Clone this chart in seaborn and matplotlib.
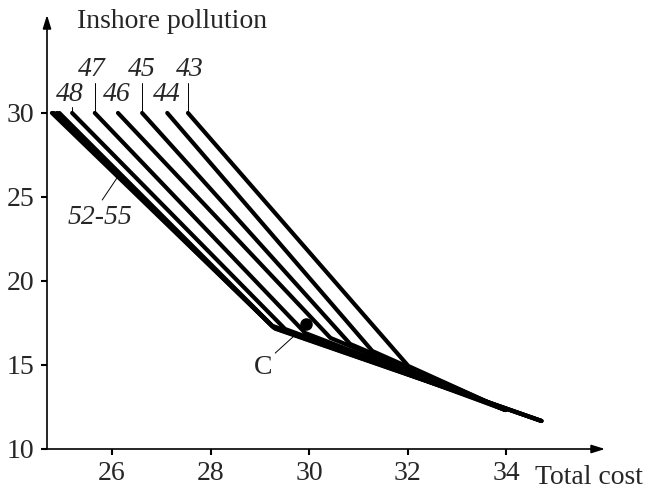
import matplotlib
matplotlib.use("Agg")
import matplotlib.pyplot as plt
import seaborn as sns
import pandas as pd

sns.set_style("white")
plt.rcParams['font.family'] = ['Liberation Serif', 'DejaVu Serif']

# series: name, start cost (pollution 30), kink point, end point
series = ["52", "53", "54", "55", "48", "47", "46", "45", "44", "43"]
start_x = [24.78, 24.82, 24.88, 24.93, 25.19, 25.65, 26.12, 26.61, 27.12, 27.54]
start_y = [30, 30, 30, 30, 30, 30, 30, 30, 30, 30]
kink_x = [29.24, 29.26, 29.28, 29.31, 29.51, 29.92, 30.43, 30.83, 31.28, 32.01]
kink_y = [17.34, 17.28, 17.22, 17.16, 17.14, 16.90, 16.61, 16.25, 15.83, 14.94]
end_x = [34.71, 34.71, 34.71, 34.71, 33.98, 33.98, 33.98, 33.98, 33.98, 33.98]
end_y = [11.67, 11.67, 11.67, 11.67, 12.32, 12.32, 12.32, 12.32, 12.32, 12.32]

top_labels = ["47", "45", "43"]
top_label_x = [25.59, 26.61, 27.58]
top_leader_x = [25.65, 26.61, 27.54]
low_labels = ["48", "46", "44"]
low_label_x = [25.15, 26.10, 27.12]

point_C = (29.94, 17.45)

xticks = [26, 28, 30, 32, 34]
yticks = [10, 15, 20, 25, 30]

rows = []
for i, s in enumerate(series):
    rows.append(dict(series=s, order=0, cost=start_x[i], poll=start_y[i]))
    rows.append(dict(series=s, order=1, cost=kink_x[i], poll=kink_y[i]))
    rows.append(dict(series=s, order=2, cost=end_x[i], poll=end_y[i]))
df = pd.DataFrame(rows)

fig = plt.figure(figsize=(6.46, 4.95), dpi=100)
ax = fig.add_axes([47/646, 46/495, 558/646, 434/495])

sns.lineplot(data=df, x="cost", y="poll", units="series", estimator=None,
             sort=False, color="black", lw=3.0, ax=ax, legend=False)

ax.set_xlim(24.68, 36.0)
ax.set_ylim(10, 35.83)
for sp in ax.spines.values():
    sp.set_visible(False)

# axes with arrows
ax.annotate("", xy=(1.0, 0), xytext=(0, 0), xycoords="axes fraction",
            arrowprops=dict(arrowstyle="-|>,head_length=0.8,head_width=0.25",
                            color="black", lw=1.2, shrinkA=0, shrinkB=0))
ax.annotate("", xy=(0, 1.0), xytext=(0, 0), xycoords="axes fraction",
            arrowprops=dict(arrowstyle="-|>,head_length=0.8,head_width=0.25",
                            color="black", lw=1.2, shrinkA=0, shrinkB=0))

FS = 20
ax.set_xticks(xticks)
ax.set_yticks(yticks)
ax.tick_params(axis="both", direction="out", length=4, width=1.5,
               labelsize=FS, color="black", bottom=True, left=True)
ax.tick_params(axis="x", pad=5)
ax.tick_params(axis="y", pad=5)
ax.set_xlabel("")
ax.set_ylabel("")

# point C
ax.plot([point_C[0]], [point_C[1]], "o", color="black", ms=8)
ax.plot([29.31, 29.67], [15.71, 16.67], color="black", lw=0.7)
ax.text(29.07, 14.88, "C", fontsize=FS, ha="center", va="center")

# labels
for lab, lx, tx in zip(top_labels, top_label_x, top_leader_x):
    ax.text(lx, 32.6, lab, fontsize=FS, style="italic", ha="center", va="center")
    ax.plot([tx, tx], [30, 31.8], color="black", lw=0.7)
for lab, lx in zip(low_labels, low_label_x):
    ax.text(lx, 31.1, lab, fontsize=FS, style="italic", ha="center", va="center")
ax.plot([25.19, 25.19], [30, 30.35], color="black", lw=0.7)

ax.text(25.76, 23.8, "52-55", fontsize=FS, style="italic", ha="center", va="center")
ax.plot([25.80, 26.10], [24.82, 26.13], color="black", lw=0.7)

fig.text(77/646, 1 - 22/495, "Inshore pollution", fontsize=FS, ha="left", va="center")
fig.text(535/646, 1 - 478/495, "Total cost", fontsize=FS, ha="left", va="center")

fig.savefig("out.png", dpi=100)
